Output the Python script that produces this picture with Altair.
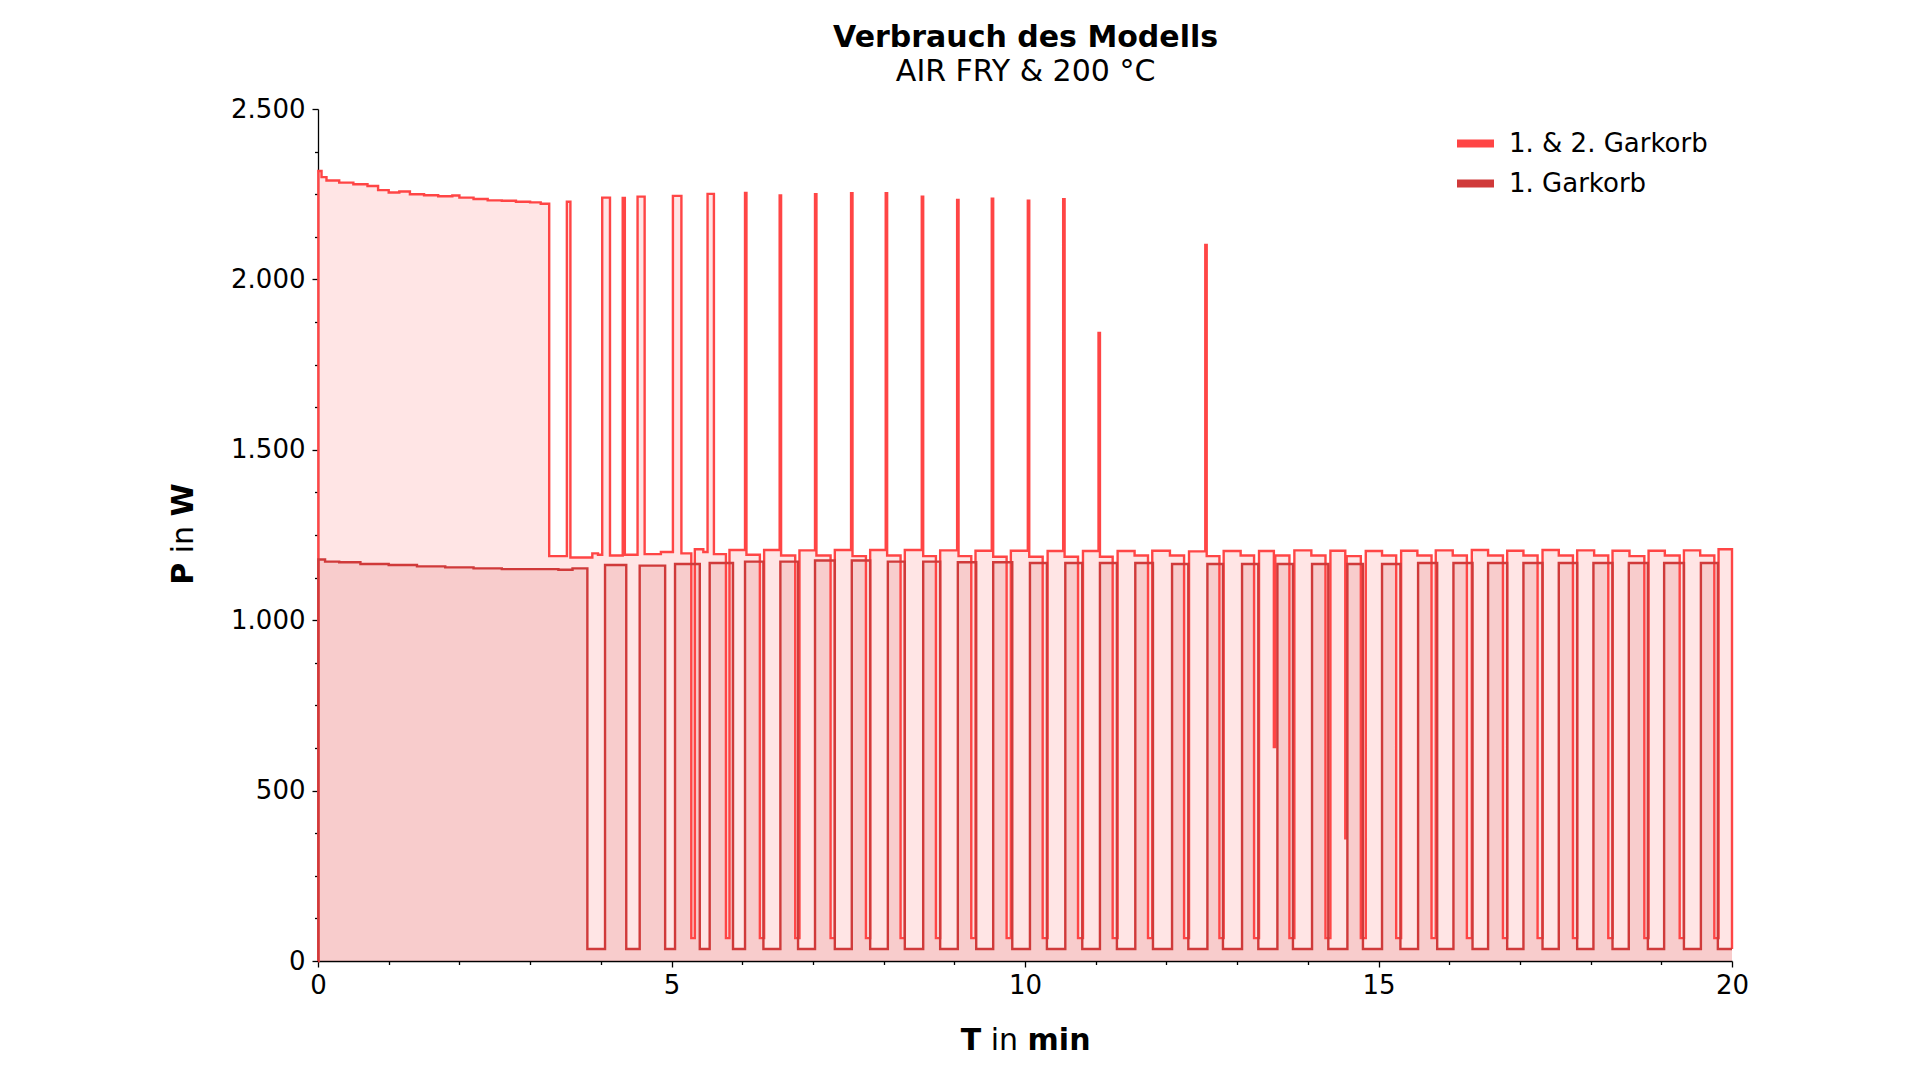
import altair as alt
import pandas as pd

# ---- data (time in min, power in W), step-after ----
upper_t = [0, 0.005, 0.05, 0.12, 0.3, 0.5, 0.7, 0.85, 1.0, 1.15, 1.3, 1.5, 1.7, 1.9, 2.0, 2.2, 2.4, 2.6, 2.8, 3.0, 3.15,
           3.27, 3.52, 3.57, 3.88, 3.96, 4.02, 4.13, 4.31, 4.34, 4.52, 4.62, 4.85, 5.02, 5.14,
           5.28, 5.33, 5.45, 5.51, 5.60,
           5.77, 5.82, 6.04, 6.06,
           6.25, 6.31, 6.53, 6.55,
           6.75, 6.81, 7.03, 7.05,
           7.25, 7.31, 7.54, 7.56,
           7.75, 7.81, 8.03, 8.05,
           8.24, 8.30, 8.54, 8.56,
           8.74, 8.80, 9.04, 9.06,
           9.24, 9.30, 9.53, 9.55,
           9.74, 9.80, 10.04, 10.06,
           10.25, 10.32, 10.54, 10.56,
           10.75, 10.82, 11.04, 11.06,
           11.24, 11.31, 11.55,
           11.74, 11.80, 12.05,
           12.25, 12.32, 12.55, 12.57,
           12.75, 12.81, 13.05,
           13.24, 13.31, 13.52, 13.54,
           13.74, 13.81, 14.05,
           14.25, 14.32, 14.53, 14.55,
           14.75, 14.82, 15.05,
           15.25, 15.32, 15.55,
           15.75, 15.81, 16.05,
           16.25, 16.32, 16.55,
           16.76, 16.82, 17.05,
           17.25, 17.32, 17.55,
           17.75, 17.81, 18.05,
           18.25, 18.31, 18.55,
           18.76, 18.82, 19.05,
           19.26, 19.32, 19.55,
           19.75, 19.81, 20.0]
upper_p = [0, 2318, 2300, 2290, 2284, 2279, 2274, 2262, 2255, 2258, 2250, 2247, 2244, 2246, 2240, 2236, 2232, 2231, 2228, 2226, 2222,
           1188, 2228, 1184, 1196, 1192, 2240, 1190, 2239, 1192, 2243, 1194, 1200, 2245, 1196,
           67, 1208, 1200, 2251, 1194,
           67, 1206, 2254, 1192,
           67, 1206, 2246, 1190,
           67, 1205, 2250, 1190,
           67, 1206, 2253, 1188,
           67, 1206, 2253, 1190,
           67, 1206, 2243, 1188,
           67, 1205, 2233, 1188,
           67, 1204, 2237, 1186,
           67, 1204, 2231, 1186,
           67, 1203, 2235, 1186,
           67, 1203, 1843, 1186,
           67, 1203, 1190,
           67, 1204, 1190,
           67, 1202, 2101, 1188,
           67, 1203, 1190,
           67, 1203, 628, 1190,
           67, 1205, 1190,
           67, 1204, 360, 1188,
           67, 1203, 1190,
           67, 1204, 1190,
           67, 1205, 1190,
           67, 1206, 1190,
           67, 1204, 1190,
           67, 1206, 1190,
           67, 1205, 1190,
           67, 1204, 1188,
           67, 1204, 1190,
           67, 1205, 1190,
           67, 1208, 35]

lower_t = [0, 0.005, 0.1, 0.3, 0.6, 1.0, 1.4, 1.8, 2.2, 2.6, 3.0, 3.4, 3.6,
           3.81, 4.06, 4.36, 4.55, 4.91, 5.05, 5.40, 5.54, 5.87, 6.04, 6.30, 6.54,
           6.79, 7.03, 7.31, 7.55, 7.81, 8.06, 8.30, 8.56, 8.80, 9.05, 9.31, 9.55,
           9.82, 10.07, 10.31, 10.57, 10.81, 11.06, 11.30, 11.56, 11.81, 12.08, 12.31, 12.58,
           12.80, 13.07, 13.30, 13.57, 13.79, 14.06, 14.29, 14.56, 14.78, 15.05, 15.31, 15.56,
           15.83, 16.06, 16.33, 16.55, 16.82, 17.05, 17.32, 17.55, 17.81, 18.04, 18.31, 18.54,
           18.81, 19.04, 19.32, 19.56, 19.80, 20.0]
lower_p = [0, 1178, 1172, 1170, 1165, 1162, 1158, 1155, 1152, 1150, 1150, 1148, 1152,
           35, 1162, 35, 1160, 35, 1165, 35, 1168, 35, 1172, 35, 1172,
           35, 1175, 35, 1175, 35, 1172, 35, 1172, 35, 1170, 35, 1170,
           35, 1168, 35, 1168, 35, 1168, 35, 1168, 35, 1165, 35, 1165,
           35, 1165, 35, 1165, 35, 1165, 35, 1165, 35, 1165, 35, 1168,
           35, 1168, 35, 1168, 35, 1168, 35, 1168, 35, 1168, 35, 1168,
           35, 1168, 35, 1168, 35, 35]

assert len(upper_t) == len(upper_p)
assert len(lower_t) == len(lower_p)

series_names = ["1. & 2. Garkorb", "1. Garkorb"]
line_colors = ["#ff4545", "#d03a3a"]

x_ticks = list(range(0, 21))
y_ticks = list(range(0, 2501, 125))

df_upper = pd.DataFrame({"series": series_names[0], "t": upper_t, "P": upper_p})
df_lower = pd.DataFrame({"series": series_names[1], "t": lower_t, "P": lower_p})
df = pd.concat([df_upper, df_lower])

FONT = "DejaVu Sans"
W, H = 1414, 852
TICK_FS = 26

x_enc = alt.X("t:Q", scale=alt.Scale(domain=[0, 20], nice=False, zero=False),
              axis=alt.Axis(values=x_ticks, title=None, grid=False,
                            labelExpr="datum.value % 5 === 0 ? format(datum.value, 'd') : ''",
                            labelFont=FONT, labelFontSize=TICK_FS, labelColor="black",
                            labelFlush=False, labelOverlap=False, labelPadding=5,
                            tickColor="black", tickWidth=1.3,
                            tickSize={"condition": {"test": "datum.value % 5 === 0", "value": 6}, "value": 3.5},
                            domainColor="black", domainWidth=1.3))
y_enc = alt.Y("P:Q", scale=alt.Scale(domain=[0, 2500], nice=False),
              axis=alt.Axis(values=y_ticks, title=None, grid=False,
                            labelExpr="datum.value % 500 === 0 ? replace(format(datum.value, ','), ',', '.') : ''",
                            labelFont=FONT, labelFontSize=TICK_FS, labelColor="black",
                            labelFlush=False, labelOverlap=False, labelPadding=7,
                            tickColor="black", tickWidth=1.3,
                            tickSize={"condition": {"test": "datum.value % 500 === 0", "value": 6}, "value": 3.5},
                            domainColor="black", domainWidth=1.3))

area_upper = alt.Chart(df_upper).mark_area(
    interpolate="step-after", orient="vertical", fill=line_colors[0], fillOpacity=0.14).encode(
    x=x_enc, y=y_enc)
area_lower = alt.Chart(df_lower).mark_area(
    interpolate="step-after", orient="vertical", fill=line_colors[1], fillOpacity=0.15).encode(
    x="t:Q", y="P:Q")

lines = alt.Chart(df).mark_line(interpolate="step-after", strokeWidth=2.4).encode(
    x="t:Q", y="P:Q",
    stroke=alt.Stroke("series:N", scale=alt.Scale(domain=series_names, range=line_colors),
                      legend=alt.Legend(orient="none", legendX=1135, legendY=12, title=None,
                                        symbolType="stroke", symbolSize=1369, symbolStrokeWidth=8,
                                        labelFont=FONT, labelFontSize=TICK_FS, labelColor="black",
                                        labelLimit=0, labelOffset=11, rowPadding=1, padding=0)),
)

one = alt.Data(values=[{"a": 1}])

def txt(s, x, y, bold, angle=0, align="left"):
    return alt.Chart(one).mark_text(text=s, font=FONT, fontSize=30, fontWeight="bold" if bold else "normal",
                                    align=align, baseline="middle", angle=angle, color="black").encode(
        x=alt.value(x), y=alt.value(y))

titles = [txt("Verbrauch des Modells", 707.6, -71, True, align="center"),
          txt("AIR FRY & 200 °C", 707.6, -37, False, align="center")]
xt = [txt("T", 642.7, 932, True), txt("in", 672.7, 932, False), txt("min", 709.6, 932, True)]
yt = [txt("P", -134, 475.7, True, 270), txt("in", -134, 444.3, False, 270), txt("W", -134, 407.4, True, 270)]

chart = alt.layer(area_upper, area_lower, lines, *titles, *xt, *yt).properties(
    width=W, height=H,
    background="white",
    autosize=alt.AutoSizeParams(type="none"),
    padding={"left": 318, "top": 109, "right": 188, "bottom": 119},
).configure_view(stroke=None)

chart.save("out.html", embed_options={"renderer": "svg", "actions": False})
